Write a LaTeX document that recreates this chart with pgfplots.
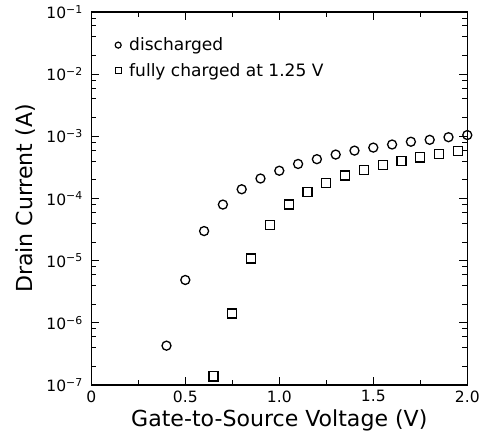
\documentclass[border={12pt 0pt 0pt 2pt}]{standalone}
\usepackage{pgfplots}
\pgfplotsset{compat=1.18}
\usepackage{fontspec}
\setmainfont{DejaVu Sans}
\begin{document}
\begin{tikzpicture}
\begin{axis}[
    scale only axis,
    width=375pt, height=372pt,
    ymode=log,
    xmin=0, xmax=2, ymin=1e-7, ymax=1e-1,
    xtick={0,0.5,1.0,1.5,2.0},
    xticklabels={0,0.5,1.0,1.5,2.0},
    minor xtick={0.25,0.75,1.25,1.75},
    ytick={1e-7,1e-6,1e-5,1e-4,1e-3,1e-2,1e-1},
    yticklabels={10\textsuperscript{−7},10\textsuperscript{−6},10\textsuperscript{−5},10\textsuperscript{−4},10\textsuperscript{−3},10\textsuperscript{−2},10\textsuperscript{−1}},
    minor ytick={2e-7,4e-7,6e-7,8e-7,2e-6,4e-6,6e-6,8e-6,2e-5,4e-5,6e-5,8e-5,2e-4,4e-4,6e-4,8e-4,2e-3,4e-3,6e-3,8e-3,2e-2,4e-2,6e-2,8e-2},
    tick align=inside,
    major tick length=8pt, minor tick length=5pt,
    every tick/.style={black, line width=1pt},
    axis line style={line width=1.5pt},
    tick label style={font=\fontsize{15.5}{17}\selectfont},
    xticklabel style={yshift=-2pt},
    yticklabel style={xshift=-5pt},
    label style={font=\fontsize{22}{25}\selectfont},
    xlabel style={yshift=-1pt},
    ylabel style={at={([xshift=-59pt]rel axis cs:0,0.5)}, anchor=base},
    xlabel={Gate-to-Source Voltage (V)},
    ylabel={Drain Current (A)},
    legend style={draw=none, fill=none, at={(0.055,0.942)}, anchor=north west,
        font=\fontsize{17}{20}\selectfont, row sep=7pt},
    legend image post style={mark size=3pt, line width=1.2pt},
    legend cell align=left,
    clip=false,
]
\addplot [only marks, mark=o, mark size=4.5pt, line width=1.3pt] coordinates {
    (0.4,4.3e-7)
    (0.5,4.9e-6)
    (0.6,3.0e-5)
    (0.7,8.0e-5)
    (0.8,1.41e-4)
    (0.9,2.1e-4)
    (1.0,2.8e-4)
    (1.1,3.6e-4)
    (1.2,4.3e-4)
    (1.3,5.1e-4)
    (1.4,5.9e-4)
    (1.5,6.6e-4)
    (1.6,7.4e-4)
    (1.7,8.2e-4)
    (1.8,8.8e-4)
    (1.9,9.7e-4)
    (2.0,1.05e-3)
};
\addlegendentry{\hspace{6pt}discharged}
\addplot [only marks, mark=square, mark size=4.5pt, line width=1.3pt] coordinates {
    (0.65,1.38e-7)
    (0.75,1.41e-6)
    (0.85,1.08e-5)
    (0.95,3.8e-5)
    (1.05,8.0e-5)
    (1.15,1.28e-4)
    (1.25,1.79e-4)
    (1.35,2.35e-4)
    (1.45,2.9e-4)
    (1.55,3.5e-4)
    (1.65,4.05e-4)
    (1.75,4.6e-4)
    (1.85,5.2e-4)
    (1.95,5.8e-4)
};
\addlegendentry{\hspace{6pt}fully charged at 1.25 V}
\end{axis}
\end{tikzpicture}
\end{document}
